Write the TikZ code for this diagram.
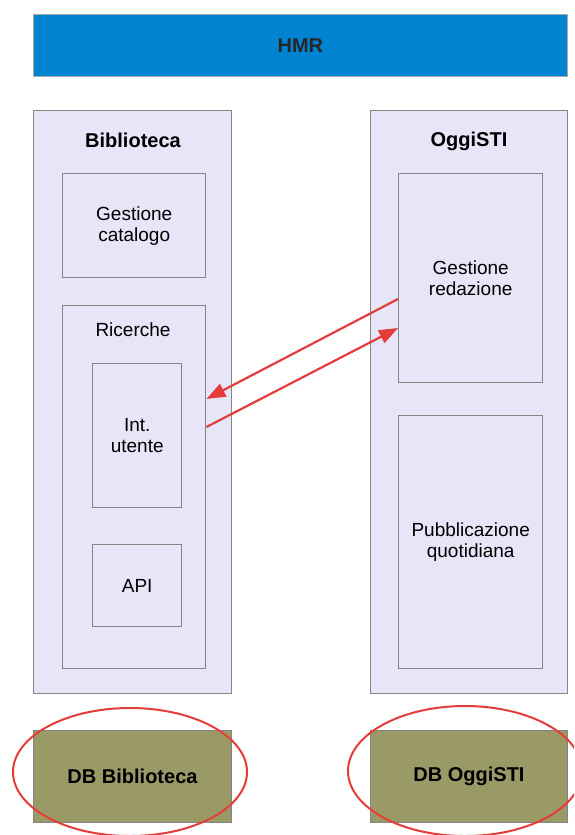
\documentclass[tikz,border=0pt]{standalone}
\usepackage{fontspec}
\setmainfont{Liberation Sans}
\usetikzlibrary{arrows.meta,shapes.geometric}
\definecolor{hmrblue}{HTML}{0084D1}
\definecolor{lav}{HTML}{E6E6F8}
\definecolor{bordergray}{HTML}{848484}
\definecolor{olive}{HTML}{9A9A66}
\definecolor{redline}{HTML}{E53D3A}
\tikzset{
  box/.style={draw=bordergray, line width=1.4pt, fill=lav, anchor=north west, inner sep=0pt, align=center, font=\fontsize{19}{21}\selectfont},
  title/.style={font=\bfseries\fontsize{20}{22}\selectfont, inner sep=0pt},
  dbbox/.style={draw=bordergray, line width=1pt, fill=olive, anchor=north west, inner sep=0pt, font=\bfseries\fontsize{20}{22}\selectfont},
  ring/.style={ellipse, draw=redline, line width=2pt, inner sep=0pt},
  redarrow/.style={draw=redline, line width=2.2pt, -{Triangle[length=19pt,width=14pt]}}
}
\begin{document}
\begin{tikzpicture}[x=1pt,y=-1pt]
\useasboundingbox (0,0) rectangle (574,835);
\clip (0,0) rectangle (574,835);
\fill[white] (0,0) rectangle (574,835);
% HMR bar
\node[draw=bordergray!70, line width=0.8pt, fill=hmrblue, anchor=north west, minimum width=534pt, minimum height=62pt, inner sep=0pt, font=\bfseries\fontsize{20}{22}\selectfont, text=black!85] (hmr) at (33,14) {HMR};
% containers
\node[box, minimum width=198pt, minimum height=583pt] (bib) at (33,110) {};
\node[title] (bibt) at (133,140) {Biblioteca};
\node[box, minimum width=197pt, minimum height=583pt] (ogg) at (370,110) {};
\node[title] (oggt) at (469,141) {OggiSTI};
% Biblioteca inner
\node[box, minimum width=143pt, minimum height=104pt] (gc) at (62,173) {Gestione\\catalogo};
\node[box, minimum width=143pt, minimum height=363pt] (ric) at (62,305) {};
\node[inner sep=0pt, font=\fontsize{19}{21}\selectfont] (rict) at (133,330) {Ricerche};
\node[box, minimum width=89pt, minimum height=144pt] (iu) at (92,363) {Int.\\utente};
\node[box, minimum width=89pt, minimum height=82pt] (api) at (92,544) {API};
% OggiSTI inner
\node[box, minimum width=144pt, minimum height=209pt] (gr) at (398,173) {Gestione\\redazione};
\node[box, minimum width=144pt, minimum height=253pt] (pq) at (398,415) {Pubblicazione\\quotidiana};
% DBs
\node[dbbox, minimum width=198pt, minimum height=92pt] (dbb) at (33,730) {DB Biblioteca};
\node[dbbox, minimum width=197pt, minimum height=92pt] (dbo) at (370,730) {DB OggiSTI};
% ellipses
\node[ring, minimum width=234pt, minimum height=128pt] (e1) at (130,772) {};
\node[ring, minimum width=234pt, minimum height=130pt] (e2) at (465,771) {};
% arrows
\draw[redarrow] (gr.west |- 0,299) -- (ric.east |- 0,399);
\draw[redarrow] (ric.east |- 0,427) -- (gr.west |- 0,328);
\end{tikzpicture}
\end{document}
